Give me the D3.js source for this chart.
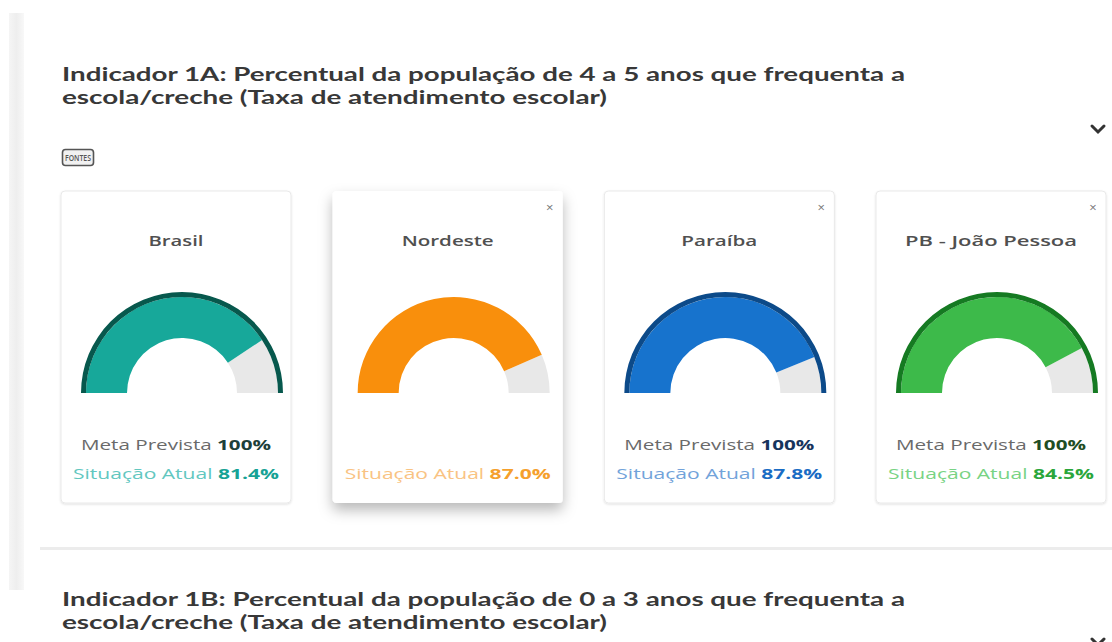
<!DOCTYPE html>
<html><head><meta charset="utf-8">
<script src="https://cdn.jsdelivr.net/npm/d3@7"></script>
<style>
html,body{margin:0;padding:0;background:#fff;}
svg{display:block;}
text{font-family:"Open Sans","Noto Sans",sans-serif;}
</style></head>
<body>
<script>
// ---- data ----
const titleA = ["Indicador 1A: Percentual da população de 4 a 5 anos que frequenta a", "escola/creche (Taxa de atendimento escolar)"];
const titleB = ["Indicador 1B: Percentual da população de 0 a 3 anos que frequenta a", "escola/creche (Taxa de atendimento escolar)"];
const regions = ["Brasil", "Nordeste", "Paraíba", "PB - João Pessoa"];
const metaPrevista = [100, null, 100, 100];
const situacaoAtual = [81.4, 87.0, 87.8, 84.5];
const closable = [false, true, true, true];

// ---- styles ----
const fillColors = ["#17a89a", "#f98f0c", "#1773cd", "#3dba4a"];
const ringColors = ["#07584d", null, "#0c4a89", "#157a22"];
const metaValColors = ["#1d3f3a", null, "#17345c", "#1f4d24"];
const atualLabelColors = ["#62c7bf", "#f9c383", "#72a3da", "#78d384"];
const atualValColors = ["#17a295", "#f5a02c", "#1a6cc4", "#2aa63b"];
const elevated = [false, true, false, false];
const regionTitleWidths = [55, 92, 76, 172];
const titleLineWidths = [843, 545];

const W = 1112, H = 642;
const svg = d3.select("body").append("svg").attr("width", W).attr("height", H);

const defs = svg.append("defs");
const f1 = defs.append("filter").attr("id", "shadowBig").attr("x", "-20%").attr("y", "-20%").attr("width", "140%").attr("height", "145%");
f1.append("feDropShadow").attr("dx", 0).attr("dy", 7).attr("stdDeviation", 7).attr("flood-color", "#000").attr("flood-opacity", 0.28);
const f2 = defs.append("filter").attr("id", "shadowSmall").attr("x", "-10%").attr("y", "-10%").attr("width", "120%").attr("height", "120%");
f2.append("feDropShadow").attr("dx", 0).attr("dy", 1).attr("stdDeviation", 1.2).attr("flood-color", "#000").attr("flood-opacity", 0.12);
const lg = defs.append("linearGradient").attr("id", "barGrad").attr("x1", 0).attr("x2", 1);
lg.append("stop").attr("offset", 0).attr("stop-color", "#f5f5f5");
lg.append("stop").attr("offset", 0.5).attr("stop-color", "#eeeeee");
lg.append("stop").attr("offset", 1).attr("stop-color", "#f8f8f8");

// left side bar
svg.append("rect").attr("x", 9).attr("y", 13).attr("width", 15).attr("height", 577).attr("fill", "url(#barGrad)");

function drawTitle(lines, y0, cls) {
  svg.selectAll("text." + cls).data(lines).join("text").attr("class", cls)
    .attr("x", 62).attr("y", (d, i) => y0 + i * 23)
    .style("font-family", "Lato, 'Open Sans', sans-serif")
    .attr("font-size", 19).attr("font-weight", 700).attr("fill", "#383838")
    .attr("textLength", (d, i) => titleLineWidths[i]).attr("lengthAdjust", "spacingAndGlyphs")
    .text(d => d);
}
drawTitle(titleA, 81, "titleA");

// chevron
svg.append("path").attr("d", "M1092,126 L1098,132 L1104,126").attr("fill", "none")
  .attr("stroke", "#333").attr("stroke-width", 3).attr("stroke-linecap", "round");

// FONTES button
svg.append("rect").attr("x", 62.5).attr("y", 149.5).attr("width", 31).attr("height", 16).attr("rx", 3)
  .attr("fill", "#f1f1f1").attr("stroke", "#555").attr("stroke-width", 1.6);
svg.append("text").attr("x", 78).attr("y", 161).attr("text-anchor", "middle")
  .attr("font-size", 9.5).attr("font-weight", 600).attr("fill", "#555").attr("textLength", 26).attr("lengthAdjust", "spacingAndGlyphs").text("FONTES");

// cards
const cardX = d3.scalePoint().domain(regions).range([61, 876]);
const cardW = 230, cardTop = 191, cardH = 312;
const angle = d3.scaleLinear().domain([0, 100]).range([-Math.PI / 2, Math.PI / 2]);
const arcFill = d3.arc().innerRadius(55).outerRadius(96);
const arcRing = d3.arc().innerRadius(96).outerRadius(101);

const order = d3.range(regions.length).sort((a, b) => (elevated[a] ? 1 : 0) - (elevated[b] ? 1 : 0));
order.forEach(i => {
  const x0 = cardX(regions[i]);
  const cx = x0 + cardW / 2;
  const g = svg.append("g");
  g.append("rect").attr("x", x0).attr("y", cardTop).attr("width", cardW).attr("height", cardH).attr("rx", 4)
    .attr("fill", "#fff").attr("stroke", elevated[i] ? "none" : "#e9e9e9").attr("stroke-width", 1)
    .attr("filter", elevated[i] ? "url(#shadowBig)" : "url(#shadowSmall)");
  if (closable[i]) {
    g.append("text").attr("x", x0 + cardW - 13).attr("y", 212).attr("text-anchor", "middle")
      .attr("font-size", 13).attr("fill", "#777").text("×");
  }
  g.append("text").attr("x", cx).attr("y", 246).attr("text-anchor", "middle")
    .attr("font-size", 15).attr("font-weight", 600).attr("fill", "#505050")
    .attr("textLength", regionTitleWidths[i]).attr("lengthAdjust", "spacingAndGlyphs").text(regions[i]);

  const gg = g.append("g").attr("transform", `translate(${cx + 6},393)`);
  gg.append("path").attr("d", arcFill({ startAngle: angle(situacaoAtual[i]), endAngle: angle(100) })).attr("fill", "#e8e8e8");
  gg.append("path").attr("d", arcFill({ startAngle: angle(0), endAngle: angle(situacaoAtual[i]) })).attr("fill", fillColors[i]);
  if (metaPrevista[i] != null) {
    gg.append("path").attr("d", arcRing({ startAngle: angle(0), endAngle: angle(metaPrevista[i]) })).attr("fill", ringColors[i]);
  }

  if (metaPrevista[i] != null) {
    const t = g.append("text").attr("x", cx).attr("y", 450).attr("text-anchor", "middle").attr("font-size", 14.5)
      .attr("textLength", 190).attr("lengthAdjust", "spacingAndGlyphs");
    t.append("tspan").attr("fill", "#6a6a6a").text("Meta Prevista ");
    t.append("tspan").attr("fill", metaValColors[i]).attr("font-weight", 700).text(metaPrevista[i] + "%");
  }
  const t2 = g.append("text").attr("x", cx).attr("y", 479).attr("text-anchor", "middle").attr("font-size", 14.5)
    .attr("textLength", 206).attr("lengthAdjust", "spacingAndGlyphs");
  t2.append("tspan").attr("fill", atualLabelColors[i]).text("Situação Atual ");
  t2.append("tspan").attr("fill", atualValColors[i]).attr("font-weight", 700).text(situacaoAtual[i].toFixed(1) + "%");
});

// separator
svg.append("rect").attr("x", 40).attr("y", 547).attr("width", W - 40).attr("height", 3).attr("fill", "#ececec");

// title B
drawTitle(titleB, 606, "titleB");
svg.append("path").attr("d", "M1092,639 L1098,645 L1104,639").attr("fill", "none")
  .attr("stroke", "#333").attr("stroke-width", 3).attr("stroke-linecap", "round");
</script>
</body></html>
